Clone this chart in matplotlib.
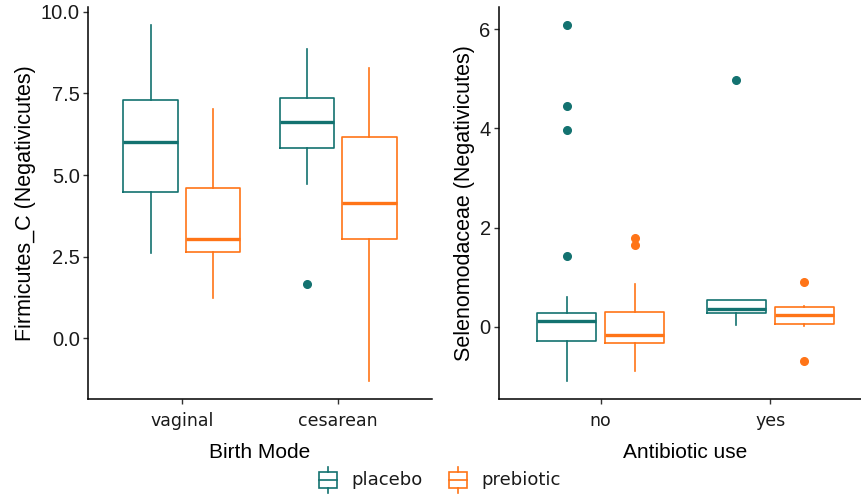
import matplotlib
matplotlib.use('Agg')
import matplotlib.pyplot as plt
from matplotlib.patches import Rectangle
from matplotlib.lines import Line2D

# colours for the two treatment arms
c_placebo = '#137270'
c_prebiotic = '#FF7417'

# Firmicutes_C by birth mode
birth_modes = ['vaginal', 'cesarean']
bm_placebo_lo = [2.6, 4.74]
bm_placebo_q1 = [4.48, 5.84]
bm_placebo_med = [6.02, 6.62]
bm_placebo_q3 = [7.31, 7.37]
bm_placebo_hi = [9.6, 8.87]
bm_placebo_out = [[], [1.65]]

bm_prebiotic_lo = [1.25, -1.31]
bm_prebiotic_q1 = [2.65, 3.03]
bm_prebiotic_med = [3.05, 4.13]
bm_prebiotic_q3 = [4.6, 6.16]
bm_prebiotic_hi = [7.02, 8.27]
bm_prebiotic_out = [[], []]

# Selenomodaceae by antibiotic use
abx = ['no', 'yes']
ab_placebo_lo = [-1.1, 0.03]
ab_placebo_q1 = [-0.28, 0.28]
ab_placebo_med = [0.12, 0.36]
ab_placebo_q3 = [0.28, 0.53]
ab_placebo_hi = [0.59, 0.53]
ab_placebo_out = [[6.09, 4.45, 3.97, 1.42], [4.97]]

ab_prebiotic_lo = [-0.89, 0.02]
ab_prebiotic_q1 = [-0.33, 0.05]
ab_prebiotic_med = [-0.17, 0.24]
ab_prebiotic_q3 = [0.30, 0.39]
ab_prebiotic_hi = [0.86, 0.42]
ab_prebiotic_out = [[1.78, 1.65], [0.91, -0.69]]

tick_font = 'Liberation Sans'
label_font = 'DejaVu Sans'

def stats(lo, q1, med, q3, hi, out):
  return [dict(whislo=a, q1=b, med=c, q3=d, whishi=e, fliers=f)
          for a, b, c, d, e, f in zip(lo, q1, med, q3, hi, out)]

def draw_group(ax, st, offset, col):
  pos = [i + 1 + offset for i in range(len(st))]
  ax.bxp(st, positions=pos, widths=0.35, showcaps=False, patch_artist=False,
         boxprops=dict(color=col, lw=1.2),
         whiskerprops=dict(color=col, lw=1.2),
         medianprops=dict(color=col, lw=2.4, solid_capstyle='butt'),
         flierprops=dict(marker='o', markerfacecolor=col, markeredgecolor=col,
                         markersize=5.5, linestyle='none'))

def style_axis(ax, cats, xlabel, ylabel, ymin, ymax):
  pad = (ymax - ymin) * 0.05
  ax.set_ylim(ymin - pad, ymax + pad)
  ax.set_xlim(0.4, len(cats) + 0.6)
  ax.set_xticks(range(1, len(cats) + 1))
  ax.set_xticklabels(cats, family=label_font, fontsize=12.5, color='#1a1a1a')
  ax.set_xlabel(xlabel, family=tick_font, fontsize=15, labelpad=9)
  ax.set_ylabel(ylabel, family=tick_font, fontsize=15.5, labelpad=3)
  for s in ['top', 'right']:
    ax.spines[s].set_visible(False)
  for s in ['left', 'bottom']:
    ax.spines[s].set_linewidth(1.1)
    ax.spines[s].set_color('black')
  ax.tick_params(length=3.5, width=1.0, color='#333333', pad=2.5)
  ax.tick_params(axis='x', pad=6)

fig = plt.figure(figsize=(8.61, 4.96), dpi=100)
ax1 = fig.add_axes([88/861, 97/496, 344/861, 392/496])
ax2 = fig.add_axes([499/861, 97/496, 373/861, 392/496])

draw_group(ax1, stats(bm_placebo_lo, bm_placebo_q1, bm_placebo_med, bm_placebo_q3, bm_placebo_hi, bm_placebo_out), -0.2, c_placebo)
draw_group(ax1, stats(bm_prebiotic_lo, bm_prebiotic_q1, bm_prebiotic_med, bm_prebiotic_q3, bm_prebiotic_hi, bm_prebiotic_out), 0.2, c_prebiotic)
all1 = bm_placebo_lo + bm_placebo_hi + bm_prebiotic_lo + bm_prebiotic_hi + sum(bm_placebo_out + bm_prebiotic_out, [])
style_axis(ax1, birth_modes, 'Birth Mode', 'Firmicutes_C (Negativicutes)', min(all1), max(all1))
ax1.set_yticks([0.0, 2.5, 5.0, 7.5, 10.0])
ax1.set_yticklabels(['0.0', '2.5', '5.0', '7.5', '10.0'], family=tick_font, fontsize=14.5, color='#1a1a1a')

draw_group(ax2, stats(ab_placebo_lo, ab_placebo_q1, ab_placebo_med, ab_placebo_q3, ab_placebo_hi, ab_placebo_out), -0.2, c_placebo)
draw_group(ax2, stats(ab_prebiotic_lo, ab_prebiotic_q1, ab_prebiotic_med, ab_prebiotic_q3, ab_prebiotic_hi, ab_prebiotic_out), 0.2, c_prebiotic)
all2 = ab_placebo_lo + ab_placebo_hi + ab_prebiotic_lo + ab_prebiotic_hi + sum(ab_placebo_out + ab_prebiotic_out, [])
style_axis(ax2, abx, 'Antibiotic use', 'Selenomodaceae (Negativicutes)', min(all2), max(all2))
ax2.set_yticks([0, 2, 4, 6])
ax2.set_yticklabels(['0', '2', '4', '6'], family=tick_font, fontsize=14.5, color='#1a1a1a')

# legend drawn at the bottom, keys as small boxplot glyphs
W, H = 861.0, 496.0
def legend_key(x0, col, text):
  x1 = x0 + 18
  xm = (x0 + x1) / 2
  fig.add_artist(Rectangle((x0 / W, 1 - 488 / H), 18 / W, 16 / H, transform=fig.transFigure,
                           fill=False, edgecolor=col, lw=1.2))
  fig.add_artist(Line2D([x0 / W, x1 / W], [1 - 480 / H] * 2, transform=fig.transFigure, color=col, lw=1.2))
  fig.add_artist(Line2D([xm / W] * 2, [1 - 467 / H, 1 - 472 / H], transform=fig.transFigure, color=col, lw=1.2))
  fig.add_artist(Line2D([xm / W] * 2, [1 - 488 / H, 1 - 493 / H], transform=fig.transFigure, color=col, lw=1.2))
  fig.text((x1 + 14) / W, 1 - 480 / H, text, family=label_font, fontsize=13,
           va='center', ha='left', color='#1a1a1a')

legend_key(319, c_placebo, 'placebo')
legend_key(449, c_prebiotic, 'prebiotic')

plt.savefig('out.png', dpi=100)
